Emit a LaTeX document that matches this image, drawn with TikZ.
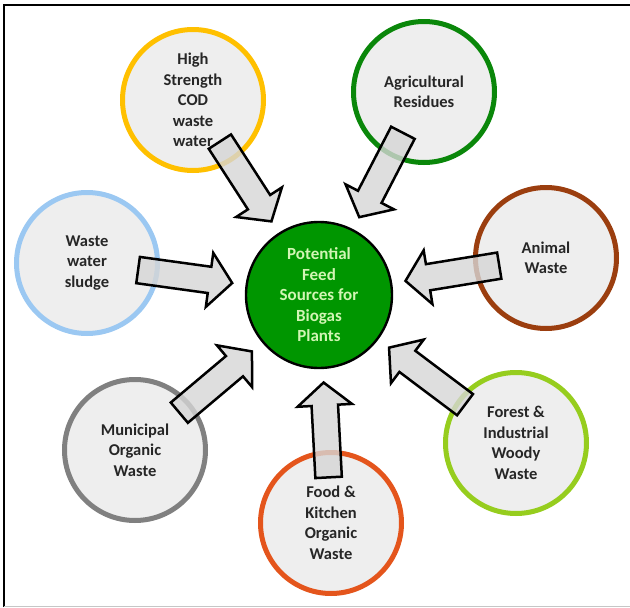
\documentclass[tikz,border=0pt]{standalone}
\usepackage{fontspec}
\setmainfont{Carlito}
\usetikzlibrary{shapes.arrows,calc}
\definecolor{srcfill}{RGB}{238,238,238}
\definecolor{arrowfill}{RGB}{214,214,214}
\definecolor{hubfill}{RGB}{0,150,0}
\definecolor{hubtext}{RGB}{210,245,180}
\definecolor{codring}{RGB}{255,192,0}
\definecolor{agriring}{RGB}{10,135,10}
\definecolor{animalring}{RGB}{155,62,15}
\definecolor{forestring}{RGB}{150,205,30}
\definecolor{foodring}{RGB}{228,85,28}
\definecolor{municipalring}{RGB}{128,128,128}
\definecolor{sludgering}{RGB}{155,200,242}
\tikzset{
source/.style = {draw, circle, line width=5pt, fill=srcfill, minimum size=141pt, inner sep=0pt, align=center, text=black!85, font=\bfseries\fontsize{16.5}{20.5}\selectfont},
hub/.style = {draw, circle, line width=2.4pt, fill=hubfill, minimum size=146pt, inner sep=0pt, align=center, text=hubtext, font=\bfseries\fontsize{17}{20.5}\selectfont},
fatarrow/.style = {draw=black, line width=2.5pt, fill=arrowfill, fill opacity=0.8, single arrow, minimum height=95pt, inner xsep=0pt, inner ysep=12pt, single arrow head extend=14pt, single arrow tip angle=100, anchor=tip, sloped, allow upside down}
}
\begin{document}
\begin{tikzpicture}[x=1pt, y=-1pt]
  \useasboundingbox (0,0) rectangle (630,608);
  % frame
  \draw [line width=2pt] (4,607) -- (4,5) -- (632,5);
  \draw [gray!45] (4,606.5) -- (630,606.5);

  \node [hub]                         (feed)      at (319,295) {Potential\\Feed\\Sources for\\Biogas\\Plants};
  \node [source, draw=codring]        (cod)       at (193,100) {High\\Strength\\COD\\waste\\water};
  \node [source, draw=agriring]       (agri)      at (424,92)  {Agricultural\\Residues};
  \node [source, draw=animalring]     (animal)    at (546,258) {Animal\\Waste};
  \node [source, draw=forestring]     (forest)    at (516,443) {Forest \&\\Industrial\\Woody\\Waste};
  \node [source, draw=foodring]       (food)      at (331,523) {Food \&\\Kitchen\\Organic\\Waste};
  \node [source, draw=municipalring]  (municipal) at (135,450) {Municipal\\Organic\\Waste};
  \node [source, draw=sludgering]     (sludge)    at (87,263)  {Waste\\water\\sludge};

  % block arrows into the hub
  \path (cod)       -- ($(feed)!86pt!(cod)$)       node [fatarrow, pos=1] {};
  \path (agri)      -- ($(feed)!86pt!(agri)$)      node [fatarrow, pos=1] {};
  \path (animal)    -- ($(feed)!86pt!(animal)$)    node [fatarrow, pos=1] {};
  \path (forest)    -- ($(feed)!86pt!(forest)$)    node [fatarrow, pos=1] {};
  \path (food)      -- ($(feed)!86pt!(food)$)      node [fatarrow, pos=1] {};
  \path (municipal) -- ($(feed)!86pt!(municipal)$) node [fatarrow, pos=1] {};
  \path (sludge)    -- ($(feed)!86pt!(sludge)$)    node [fatarrow, pos=1] {};
\end{tikzpicture}
\end{document}
